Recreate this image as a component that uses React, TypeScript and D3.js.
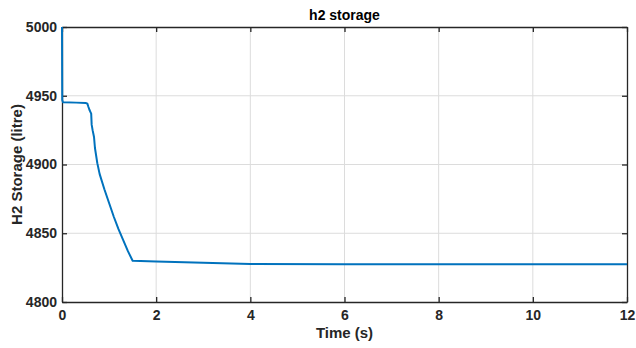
import React, { useRef, useEffect } from 'react';
import * as d3 from 'd3';

// time (s) and hydrogen storage (litre)
const timeS = [0, 0.005, 0.02, 0.3, 0.5, 0.54, 0.56, 0.58, 0.6, 0.62, 0.63, 0.65, 0.68, 0.7, 0.75, 0.8, 0.9, 1.0, 1.1, 1.2, 1.3, 1.4, 1.5, 2, 3, 4, 6, 8, 10, 12];
const storageL = [5000, 4947, 4945.3, 4945, 4944.8, 4944.2, 4942, 4940, 4938.5, 4937, 4929, 4925, 4920, 4912, 4901, 4893, 4882, 4872, 4862, 4853, 4845, 4837, 4830, 4829.5, 4828.5, 4827.6, 4827.5, 4827.5, 4827.5, 4827.5];
const xTicks = [0, 2, 4, 6, 8, 10, 12];
const yTicks = [4800, 4850, 4900, 4950, 5000];

const W = 636, H = 348;
const margin = { top: 27, right: 9, bottom: 46, left: 62 };

const App = () => {
    const svgRef = useRef<SVGSVGElement>(null);

    useEffect(() => {
        const svg = d3.select(svgRef.current);
        svg.selectAll('*').remove();
        const iw = W - margin.left - margin.right;
        const ih = H - margin.top - margin.bottom;

        const x = d3.scaleLinear().domain([0, 12]).range([0, iw]);
        const y = d3.scaleLinear().domain([4800, 5000]).range([ih, 0]);

        const g = svg.append('g').attr('transform', `translate(${margin.left},${margin.top})`);
        const font = '"Liberation Sans", Arial, sans-serif';

        // grid
        g.append('g').selectAll('line').data(xTicks.slice(1, -1)).enter().append('line')
            .attr('x1', d => x(d)).attr('x2', d => x(d)).attr('y1', 0).attr('y2', ih)
            .attr('stroke', '#dcdcdc').attr('stroke-width', 1);
        g.append('g').selectAll('line').data(yTicks.slice(1, -1)).enter().append('line')
            .attr('y1', d => y(d)).attr('y2', d => y(d)).attr('x1', 0).attr('x2', iw)
            .attr('stroke', '#dcdcdc').attr('stroke-width', 1);

        // axes (inside ticks, full box)
        const styleAxis = (sel: any) => {
            sel.select('.domain').attr('stroke', '#262626').attr('stroke-width', 1.3);
            sel.selectAll('.tick line').attr('stroke', '#262626').attr('stroke-width', 1.3);
            sel.selectAll('text').attr('fill', '#262626').style('font-family', font)
                .style('font-weight', 'bold').style('font-size', '14px');
        };
        g.append('g').attr('transform', `translate(0,${ih})`)
            .call(d3.axisBottom(x).tickValues(xTicks).tickSize(-5).tickSizeOuter(0).tickPadding(8).tickFormat(d3.format('d')))
            .call(styleAxis);
        g.append('g')
            .call(d3.axisTop(x).tickValues(xTicks).tickSize(-5).tickSizeOuter(0).tickFormat(() => ''))
            .call(styleAxis);
        g.append('g')
            .call(d3.axisLeft(y).tickValues(yTicks).tickSize(-5).tickSizeOuter(0).tickPadding(5).tickFormat(d3.format('d')))
            .call(styleAxis);
        g.append('g').attr('transform', `translate(${iw},0)`)
            .call(d3.axisRight(y).tickValues(yTicks).tickSize(-5).tickSizeOuter(0).tickFormat(() => ''))
            .call(styleAxis);

        // data line (drawn over the axes)
        const pts = timeS.map((t, i) => [t, storageL[i]] as [number, number]);
        g.append('path').datum(pts)
            .attr('d', d3.line<[number, number]>().x(d => x(d[0])).y(d => y(d[1])))
            .attr('fill', 'none').attr('stroke', '#0072BD').attr('stroke-width', 2)
            .attr('stroke-linejoin', 'round');

        // labels
        svg.append('text').attr('x', margin.left + iw / 2).attr('y', 20)
            .attr('text-anchor', 'middle').style('font-family', font).style('font-weight', 'bold')
            .style('font-size', '14px').attr('fill', '#000').text('h2 storage');
        svg.append('text').attr('x', margin.left + iw / 2).attr('y', 338)
            .attr('text-anchor', 'middle').style('font-family', font).style('font-weight', 'bold')
            .style('font-size', '15px').attr('fill', '#262626').text('Time (s)');
        svg.append('text').attr('transform', `translate(22,${margin.top + ih / 2}) rotate(-90)`)
            .attr('text-anchor', 'middle').style('font-family', font).style('font-weight', 'bold')
            .style('font-size', '15px').attr('fill', '#262626').text('H2 Storage (litre)');
    }, []);

    return (
        <svg ref={svgRef} width={W} height={H} style={{ position: 'absolute', left: 0, top: 0, background: '#fff' }}></svg>
    );
};

export default App;
